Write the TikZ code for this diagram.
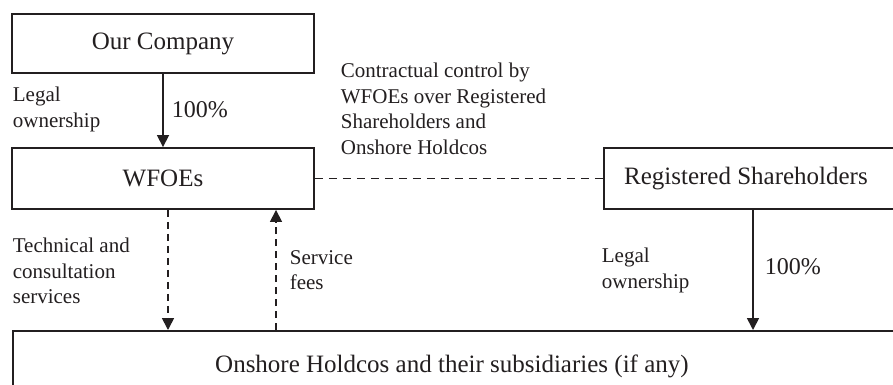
\documentclass[tikz,border=0pt]{standalone}
\usepackage{fontspec}
\setmainfont{Liberation Serif}
\usetikzlibrary{arrows.meta}
\definecolor{ink}{HTML}{231F20}
\begin{document}
\begin{tikzpicture}[x=1pt,y=-1pt,
  line width=1.7pt,
  box/.style={draw=ink,line width=1.9pt,inner sep=0pt,text=ink,
              font=\fontsize{25}{30}\selectfont},
  lbl/.style={inner sep=0pt,align=left,anchor=west,text=ink,
              font=\fontsize{21}{25.5}\selectfont},
  pct/.style={inner sep=0pt,anchor=west,text=ink,
              font=\fontsize{24}{28}\selectfont},
  own/.style={draw=ink,-{Triangle[width=12pt,length=12pt]}},
  flow/.style={draw=ink,dash pattern=on 7pt off 5pt,-{Triangle[width=12pt,length=12pt]}},
  link/.style={draw=ink,dash pattern=on 8pt off 6pt}]
\useasboundingbox (0,0) rectangle (893,384);
\clip (0,0) rectangle (893,384);
\fill[white] (0,0) rectangle (893,384);

% entity boxes
\node[box,minimum width=302pt,minimum height=59pt] (our) at (163,43.5) {Our Company};
\node[box,minimum width=302pt,minimum height=61pt] (wfoe) at (163,178.5) {WFOEs};
\node[box,minimum width=300pt,minimum height=61pt,anchor=west] (reg) at (603,178.5)
  {\hspace*{-16pt}Registered Shareholders};
\node[box,minimum width=890pt,minimum height=70pt,anchor=north west] (ons) at (12,330)
  {\hspace*{-12pt}Onshore Holdcos and their subsidiaries (if any)};

% columns of the vertical connectors
\coordinate (c1) at (168,0);
\coordinate (c2) at (276,0);
\coordinate (c3) at (753,0);

% ownership and contractual flows
\draw[own] (our) -- (wfoe);
\draw[link] (wfoe.east) -- (reg.west);
\draw[flow] (wfoe.south -| c1) -- (ons.north -| c1);
\draw[flow] (ons.north -| c2) -- (wfoe.south -| c2);
\draw[own] (reg.south -| c3) -- (ons.north -| c3);

% labels
\node[lbl] (lo1) at (12,109.5) {Legal\\ownership};
\node[pct] (p1) at (171,110) {100\%};
\node[lbl] (cc) at (340,109) {Contractual control by\\WFOEs over Registered\\Shareholders and\\Onshore Holdcos};
\node[lbl] (tc) at (12,271) {Technical and\\consultation\\services};
\node[lbl] (sf) at (289,270) {Service\\fees};
\node[lbl] (lo2) at (601,270.5) {Legal\\ownership};
\node[pct] (p2) at (764,267) {100\%};
\end{tikzpicture}
\end{document}
